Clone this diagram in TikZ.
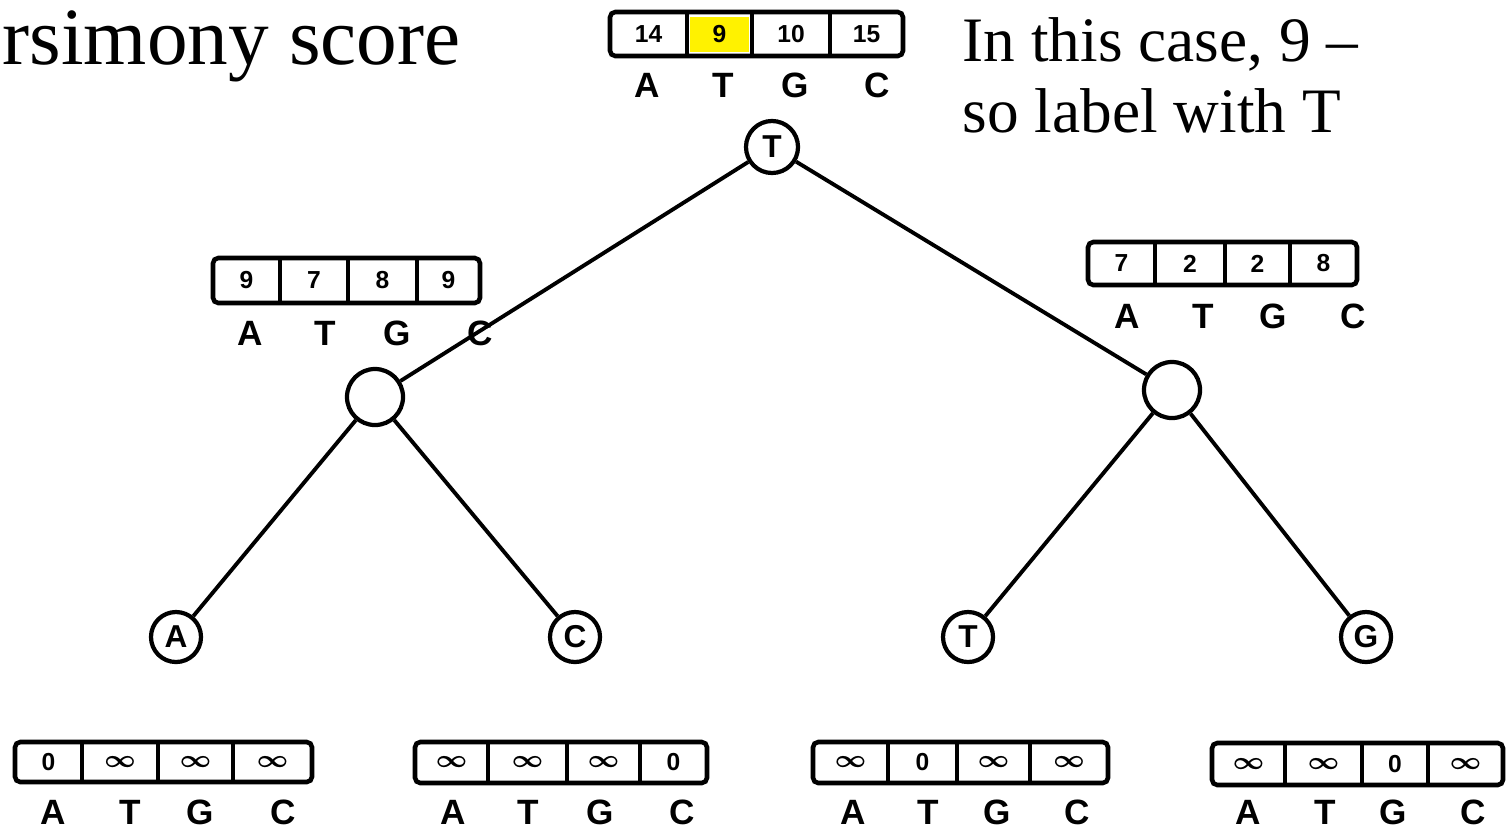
\documentclass[tikz,border=0pt]{standalone}
\usepackage{fontspec}
\setmainfont{Liberation Serif}
\newfontfamily\labelfont{Liberation Sans}

% score table: #1 name, #2-#6 cell borders (x), #7 top, #8 bottom
\newcommand\scorebox[8]{%
  \draw[boxline] (#2,#7) rectangle (#6,#8);
  \draw[divline] (#3,#7) -- (#3,#8) (#4,#7) -- (#4,#8) (#5,#7) -- (#5,#8);
  \coordinate (#1-A) at ({(#2+#3)/2},{(#7+#8)/2});
  \coordinate (#1-T) at ({(#3+#4)/2},{(#7+#8)/2});
  \coordinate (#1-G) at ({(#4+#5)/2},{(#7+#8)/2});
  \coordinate (#1-C) at ({(#5+#6)/2},{(#7+#8)/2});
}
% cell values of a score table
\newcommand\scorevals[5]{%
  \node[cellval] (#1-vA) at (#1-A) {#2};
  \node[cellval] (#1-vT) at (#1-T) {#3};
  \node[cellval] (#1-vG) at (#1-G) {#4};
  \node[cellval] (#1-vC) at (#1-C) {#5};
}
% base letters under a score table: #1 name, #2 y, #3-#6 x positions
\newcommand\baserow[6]{%
  \node[baselabel] (#1-lA) at (#3,#2) {A};
  \node[baselabel] (#1-lT) at (#4,#2) {T};
  \node[baselabel] (#1-lG) at (#5,#2) {G};
  \node[baselabel] (#1-lC) at (#6,#2) {C};
}
\newcommand\infsym{{\boldmath$\infty$}}

\begin{document}
\begin{tikzpicture}[x=0.01cm,y=-0.01cm,
  edge/.style={line width=1.1pt},
  statenode/.style={circle,draw,line width=1.2pt,inner sep=0pt,fill=white,
    font=\labelfont\bfseries\fontsize{9}{9}\selectfont},
  boxline/.style={line width=1.3pt,rounded corners=1.5pt},
  divline/.style={line width=0.9pt},
  cellval/.style={inner sep=0pt,font=\labelfont\bfseries\fontsize{7}{7}\selectfont},
  baselabel/.style={inner sep=0pt,font=\labelfont\bfseries\fontsize{10}{10}\selectfont},
  slidetext/.style={inner sep=0pt,anchor=base west,font=\fontsize{18}{18}\selectfont}]

\useasboundingbox (0,0) rectangle (1507,827);

% slide text
\node[slidetext,font=\fontsize{23.1}{23.1}\selectfont] (title) at (2,64) {rsimony score};
\node[slidetext] (note1) at (962,61) {In this case, 9 --};
\node[slidetext] (note2) at (962,132) {so label with T};

% tree
\node[statenode,minimum size=0.52cm] (root) at (772,147) {T};
\node[statenode,minimum size=0.56cm] (lm) at (375,397) {};
\node[statenode,minimum size=0.56cm] (rm) at (1172,390) {};
\node[statenode,minimum size=0.50cm] (la) at (176,637) {A};
\node[statenode,minimum size=0.50cm] (lc) at (575,637) {C};
\node[statenode,minimum size=0.50cm] (lt) at (968,637) {T};
\node[statenode,minimum size=0.50cm] (lg) at (1366,637) {G};

\draw[edge] (root) -- (lm);
\draw[edge] (root) -- (rm);
\draw[edge] (lm) -- (la);
\draw[edge] (lm) -- (lc);
\draw[edge] (rm) -- (lt);
\draw[edge] (rm) -- (lg);

% root table, minimum highlighted
\fill[yellow] (690,17) rectangle (749,52);
\scorebox{top}{610}{687}{752}{830}{903}{12}{56}
\scorevals{top}{14}{9}{10}{15}
\baserow{top}{85}{647}{723}{795}{877}

% internal tables
\scorebox{lmid}{213}{280}{348}{417}{480}{258}{303}
\scorevals{lmid}{9}{7}{8}{9}
\baserow{lmid}{333}{250}{325}{397}{480}

\scorebox{rmid}{1088}{1155}{1225}{1290}{1357}{242}{285}
\scorevals{rmid}{7}{2}{2}{8}
\baserow{rmid}{316}{1127}{1203}{1273}{1353}

% leaf tables
\scorebox{b1}{15}{82}{158}{233}{312}{742}{782}
\scorevals{b1}{0}{\infsym}{\infsym}{\infsym}
\baserow{b1}{812}{53}{130}{200}{283}

\scorebox{b2}{415}{488}{567}{640}{707}{742}{783}
\scorevals{b2}{\infsym}{\infsym}{\infsym}{0}
\baserow{b2}{812}{453}{528}{600}{682}

\scorebox{b3}{813}{888}{957}{1030}{1108}{742}{783}
\scorevals{b3}{\infsym}{0}{\infsym}{\infsym}
\baserow{b3}{812}{853}{928}{997}{1077}

\scorebox{b4}{1212}{1285}{1362}{1428}{1503}{743}{785}
\scorevals{b4}{\infsym}{\infsym}{0}{\infsym}
\baserow{b4}{812}{1248}{1325}{1393}{1473}
\end{tikzpicture}
\end{document}
